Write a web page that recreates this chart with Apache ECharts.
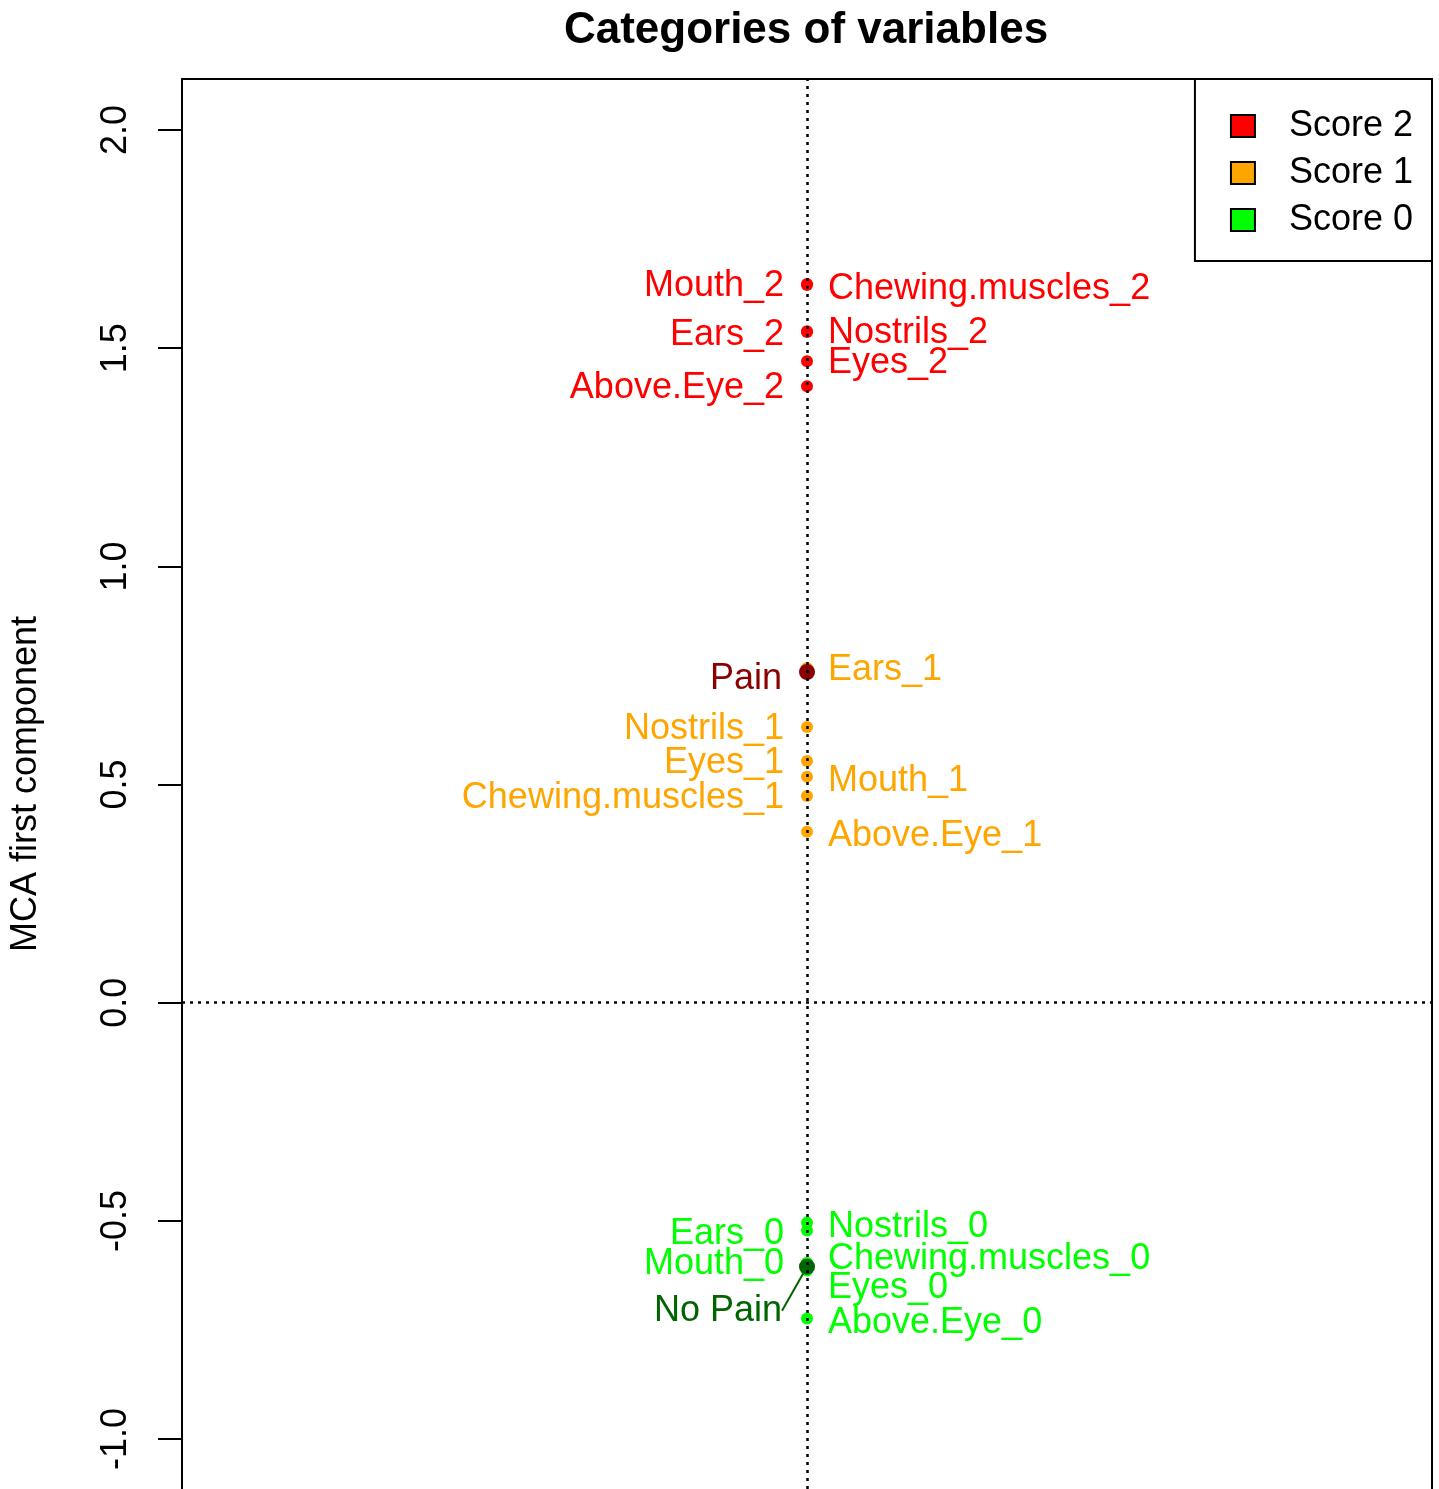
<!DOCTYPE html>
<html>
<head>
<meta charset="utf-8">
<script src="https://cdn.jsdelivr.net/npm/echarts@6/dist/echarts.min.js"></script>
<style>html,body{margin:0;padding:0;background:#fff}#c{width:1439px;height:1489px}</style>
</head>
<body>
<div id="c"></div>
<script>
// ---- data ----
const score2Names = ['Mouth_2','Chewing.muscles_2','Ears_2','Nostrils_2','Eyes_2','Above.Eye_2'];
const score2Values = [1.647, 1.645, 1.539, 1.537, 1.470, 1.413];
const score1Names = ['Ears_1','Nostrils_1','Eyes_1','Mouth_1','Chewing.muscles_1','Above.Eye_1'];
const score1Values = [0.767, 0.632, 0.554, 0.518, 0.474, 0.392];
const score0Names = ['Nostrils_0','Ears_0','Chewing.muscles_0','Mouth_0','Eyes_0','Above.Eye_0'];
const score0Values = [-0.504, -0.522, -0.596, -0.602, -0.614, -0.724];
const painNames = ['Pain'];
const painValues = [0.758];
const noPainNames = ['No Pain'];
const noPainValues = [-0.605];
const yTicks = [-1.0, -0.5, 0.0, 0.5, 1.0, 1.5, 2.0];
const legendNames = ['Score 2', 'Score 1', 'Score 0'];

// ---- label layout (side, vertical shift in px) ----
const labelLayout = {
  'Mouth_2':['left',2], 'Chewing.muscles_2':['right',4], 'Ears_2':['left',4], 'Nostrils_2':['right',1],
  'Eyes_2':['right',2], 'Above.Eye_2':['left',2],
  'Ears_1':['right',2], 'Pain':['left',7], 'Nostrils_1':['left',2], 'Eyes_1':['left',2],
  'Mouth_1':['right',4], 'Chewing.muscles_1':['left',2], 'Above.Eye_1':['right',4],
  'Nostrils_0':['right',4], 'Ears_0':['left',4], 'Mouth_0':['left',-1], 'Chewing.muscles_0':['right',-4],
  'Eyes_0':['right',17], 'No Pain':['left',0], 'Above.Eye_0':['right',4]
};

const FONT = '"Liberation Sans", Arial, Helvetica, sans-serif';

function items(names, values) {
  return names.map((n, i) => {
    const l = labelLayout[n] || ['right', 0];
    return {
      name: n,
      value: [0, values[i]],
      label: { position: l[0], offset: [0, l[1]], distance: l[0] === 'left' ? 17 : 15 }
    };
  });
}

function scatter(name, names, values, color, size, z) {
  return {
    name: name,
    type: 'scatter',
    symbol: 'circle',
    symbolSize: size,
    z: z || 2,
    itemStyle: { color: color, opacity: 1 },
    label: {
      show: true,
      formatter: p => p.name,
      color: color,
      fontSize: 36,
      fontFamily: FONT,
      distance: 17
    },
    emphasis: { disabled: true },
    data: items(names, values)
  };
}

const chart = echarts.init(document.getElementById('c'), null, { renderer: 'canvas' });

const noPain = scatter('No Pain', noPainNames, noPainValues, '#006400', 16, 3);
noPain.data[0].label = { position: 'left', distance: 17 };
noPain.labelLayout = { dx: 0, dy: 44 };
noPain.labelLine = { show: true, lineStyle: { color: '#006400', width: 2 } };

const boxLine = { show: true, onZero: false, lineStyle: { color: '#000', width: 2 } };

const option = {
  animation: false,
  backgroundColor: '#ffffff',
  title: {
    text: 'Categories of variables',
    left: 801,
    textAlign: 'center',
    top: 4,
    textStyle: { fontFamily: FONT, fontSize: 44, fontWeight: 'bold', color: '#000' }
  },
  legend: {
    data: legendNames,
    right: 7,
    top: 79,
    orient: 'vertical',
    icon: 'rect',
    itemWidth: 24,
    itemHeight: 22,
    itemGap: 11,
    padding: [29, 19, 23, 35],
    backgroundColor: '#fff',
    borderColor: '#000',
    borderWidth: 2,
    itemStyle: { borderColor: '#000', borderWidth: 2 },
    textStyle: { fontFamily: FONT, fontSize: 36, color: '#000', padding: [0, 0, 0, 29] },
    selectedMode: false,
    z: 20
  },
  grid: {
    left: 180, top: 79, right: 7, bottom: 0,
    show: false
  },
  xAxis: {
    type: 'value', min: -1, max: 1, position: 'top',
    axisLine: boxLine,
    axisTick: { show: false }, axisLabel: { show: false }, splitLine: { show: false }
  },
  yAxis: [{
    type: 'value',
    min: -1.1145, max: 2.117,
    position: 'left',
    name: 'MCA first component',
    nameLocation: 'middle',
    nameRotate: 90,
    nameGap: 138,
    nameTextStyle: { fontFamily: FONT, fontSize: 36, color: '#000' },
    axisLine: boxLine,
    splitLine: { show: false },
    axisTick: { show: true, inside: false, length: 24, customValues: yTicks, lineStyle: { color: '#000', width: 2 } },
    axisLabel: {
      show: true, rotate: 90, margin: 48, customValues: yTicks,
      fontFamily: FONT, fontSize: 36, color: '#000',
      formatter: v => v.toFixed(1)
    }
  }, {
    type: 'value',
    min: -1.1145, max: 2.117,
    position: 'right',
    axisLine: boxLine,
    axisTick: { show: false }, axisLabel: { show: false }, splitLine: { show: false }
  }],
  series: [
    scatter('Score 2', score2Names, score2Values, '#FF0000', 12, 2),
    scatter('Score 1', score1Names, score1Values, '#FFA500', 12, 2),
    scatter('Score 0', score0Names, score0Values, '#00FF00', 12, 2),
    scatter('Pain', painNames, painValues, '#8B0000', 16, 3),
    noPain,
    {
      name: 'refLines', type: 'scatter', data: [], z: 10, silent: true,
      markLine: {
        silent: true, symbol: 'none', animation: false,
        label: { show: false },
        lineStyle: { color: '#000', width: 2.5, type: [3, 5] },
        data: [{ xAxis: 0 }, { yAxis: 0 }]
      }
    }
  ]
};
chart.setOption(option);
</script>
</body>
</html>
